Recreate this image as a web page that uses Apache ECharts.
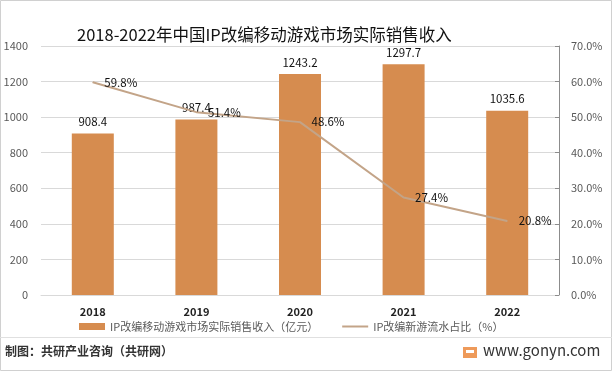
<!DOCTYPE html>
<html><head><meta charset="utf-8">
<script src="https://cdn.jsdelivr.net/npm/echarts@6/dist/echarts.min.js"></script>
<style>html,body{margin:0;padding:0;background:#fff}#c{width:612px;height:371px}</style>
</head><body><div id="c"></div>
<script>
const categories = ['2018','2019','2020','2021','2022'];
const revenue = [908.4, 987.4, 1243.2, 1297.7, 1035.6];
const share = [59.8, 51.4, 48.6, 27.4, 20.8];
const leftTicks = [0,200,400,600,800,1000,1200,1400];
const revenueName = 'IP改编移动游戏市场实际销售收入（亿元）';
const shareName = 'IP改编新游流水占比（%）';
const titleText = '2018-2022年中国IP改编移动游戏市场实际销售收入';

const chart = echarts.init(document.getElementById('c'), null, {renderer:'canvas'});
const font = '"Noto Sans CJK SC", "Noto Sans", sans-serif';
chart.setOption({
  backgroundColor:'#fff',
  animation:false,
  textStyle:{fontFamily:font},
  title:{text:titleText, left:72, top:21, textStyle:{fontSize:16.5, fontWeight:'normal', color:'#111', fontFamily:font}},
  grid:{left:41, right:53, top:46, bottom:76},
  legend:{
    bottom:34, left:74, itemGap:24, itemWidth:26, itemHeight:7,
    textStyle:{fontSize:11, color:'#595959', fontFamily:font},
    data:[{name:revenueName, icon:'rect'},{name:shareName, icon:'path://M0,0 L26,0 L26,2 L0,2 Z', itemStyle:{color:'#c3a488'}}]
  },
  xAxis:{type:'category', data:categories,
    axisLine:{show:true, lineStyle:{color:'#d9d9d9'}}, axisTick:{show:false},
    axisLabel:{fontSize:11, color:'#222', fontWeight:'bold', margin:11}},
  yAxis:[
    {type:'value', min:leftTicks[0], max:leftTicks[leftTicks.length-1], interval:200,
     axisLine:{show:false}, axisTick:{show:false},
     axisLabel:{fontSize:11, color:'#595959', margin:13, formatter:v=>String(v)},
     splitLine:{lineStyle:{color:'#d9d9d9'}}},
    {type:'value', min:0, max:70, interval:10, position:'right',
     axisLine:{show:true, lineStyle:{color:'#8c8c8c'}},
     axisTick:{show:true, inside:true, length:4, lineStyle:{color:'#8c8c8c'}},
     axisLabel:{fontSize:11, color:'#595959', margin:12, formatter:v=>v.toFixed(1)+'%'},
     splitLine:{show:false}}
  ],
  series:[
    {name:revenueName, type:'bar', data:revenue, barWidth:42,
     itemStyle:{color:'#d68c4f'},
     label:{show:true, position:'top', fontSize:11.5, color:'#111', distance:6}},
    {name:shareName, type:'line', yAxisIndex:1, data:share,
     symbol:'circle', symbolSize:1, showSymbol:true,
     lineStyle:{color:'#c3a488', width:2}, itemStyle:{color:'#c3a488'},
     labelLayout:{hideOverlap:false},
     label:{show:true, position:'right', distance:11, offset:[0,2], fontSize:11.5, color:'#111',
       formatter:p=>p.value.toFixed(1)+'%'}}
  ],
  graphic:[
    {type:'rect', shape:{x:0.5,y:0.5,width:611,height:370}, style:{fill:'none', stroke:'#d0d0d0', lineWidth:1}, silent:true},
    {type:'line', shape:{x1:0,y1:337.5,x2:612,y2:337.5}, style:{stroke:'#e0e0e0', lineWidth:1}},
    {type:'text', left:5, top:345, style:{text:'制图：共研产业咨询（共研网）', font:'bold 12px '+font, fill:'#333'}},
    {type:'rect', shape:{x:463,y:347,width:14,height:11}, style:{fill:'#ee9a5a'}},
    {type:'rect', shape:{x:466,y:350,width:8,height:3}, style:{fill:'#fff'}},
    {type:'text', left:483, top:343, style:{text:'www.gonyn.com', font:'15px '+font, fill:'#333'}}
  ]
});
</script></body></html>
